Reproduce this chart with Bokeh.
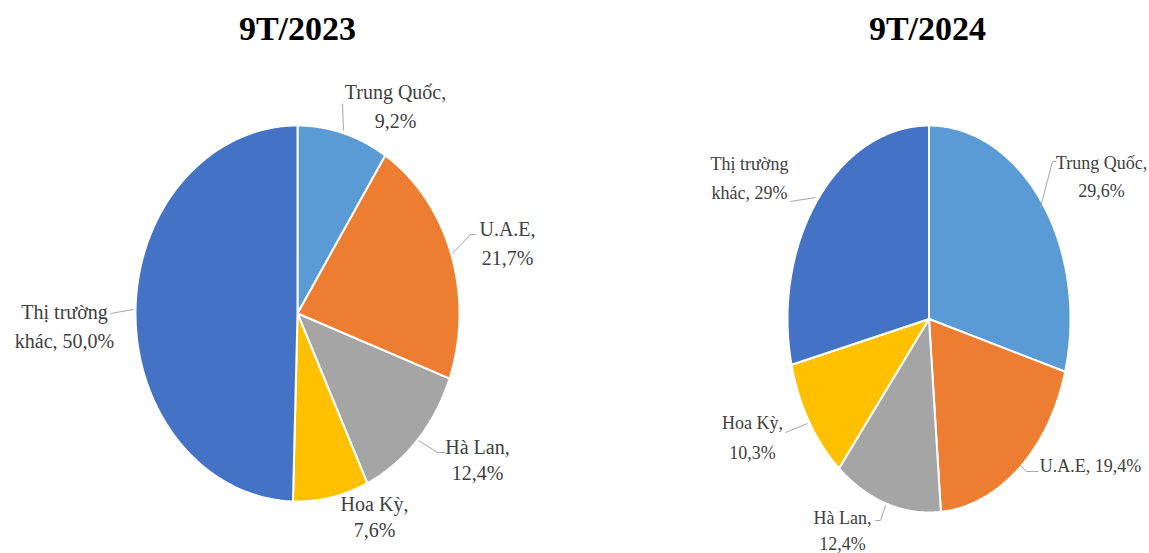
import numpy as np
from bokeh.plotting import figure
from bokeh.models import Range1d, ColumnDataSource
from bokeh.embed import file_html
from bokeh.resources import INLINE
from bokeh.core.properties import value

# ---------------- data ----------------
titles = ["9T/2023", "9T/2024"]
markets = ["Trung Quốc", "U.A.E", "Hà Lan", "Hoa Kỳ", "Thị trường khác"]
shares_2023 = [9.2, 21.7, 12.4, 7.6, 50.0]
shares_2024 = [29.6, 19.4, 12.4, 10.3, 29.0]
share_text_2023 = ["9,2%", "21,7%", "12,4%", "7,6%", "50,0%"]
share_text_2024 = ["29,6%", "19,4%", "12,4%", "10,3%", "29%"]
colors = ["#5B9BD5", "#ED7D31", "#A5A5A5", "#FFC000", "#4472C4"]

# ---------------- layout (pixel space, y downwards) ----------------
W, H = 1149, 553
FONT = "Liberation Serif"
LABEL_COLOR = "#404040"
LEADER_COLOR = "#A6A6A6"

pies = [
    dict(cx=297, cy=313, rx=162, ry=188, title_x=297, font="20px",
         # label layout per slice: (x, y line1, y line2 or None, split mode)
         labels=[(395, 91, 120, "comma"), (507, 228, 257, "comma"),
                 (477, 446, 472, "comma"), (374, 503, 529, "comma"),
                 (64, 311, 340, "name")],
         leaders=[[(342, 103), (343, 130)],
                  [(475, 234), (470, 234), (452, 253)],
                  [(445, 452), (437, 452), (418, 440)],
                  None,
                  [(110, 313), (133, 309)]]),
    dict(cx=928.5, cy=318.5, rx=141.5, ry=193.5, title_x=927, font="18px",
         labels=[(1101, 162, 190, "comma"), (1090, 465, None, "none"),
                 (842, 517, 543, "comma"), (752, 422, 452, "comma"),
                 (749, 163, 192, "name")],
         leaders=[[(1056, 161), (1052, 161), (1040, 207)],
                  [(1038, 471), (1026, 471), (1020, 465)],
                  [(875, 520), (880, 520), (885, 505)],
                  [(785, 432), (807, 423)],
                  [(790, 201), (815, 197)]]),
]

p = figure(width=W, height=H, x_range=Range1d(0, W), y_range=Range1d(H, 0),
           output_backend="svg", toolbar_location=None, min_border=0,
           background_fill_color="white", border_fill_color="white")
p.outline_line_color = None
p.axis.visible = False
p.grid.visible = False

for pie, shares, stexts, title in zip(pies, [shares_2023, shares_2024],
                                      [share_text_2023, share_text_2024], titles):
    vals = np.array(shares, dtype=float)
    cum = np.concatenate([[0.0], np.cumsum(vals)]) / vals.sum()
    xs, ys = [], []
    for a0, a1 in zip(cum[:-1], cum[1:]):
        th = np.linspace(2 * np.pi * a0, 2 * np.pi * a1, 200)
        px = pie["cx"] + pie["rx"] * np.sin(th)
        py = pie["cy"] - pie["ry"] * np.cos(th)
        xs.append([pie["cx"]] + list(px))
        ys.append([pie["cy"]] + list(py))
    src = ColumnDataSource(dict(xs=xs, ys=ys, color=colors, market=markets))
    p.patches("xs", "ys", source=src, fill_color="color",
              line_color="white", line_width=2)

    # title
    p.text(x=[pie["title_x"]], y=[28], text=[title], text_font=value(FONT),
           text_font_size="34px", text_font_style="bold", text_color="black",
           text_align="center", text_baseline="middle")

    # labels
    tx, ty, tt = [], [], []
    for name, stext, (lx, y1, y2, mode) in zip(markets, stexts, pie["labels"]):
        if mode == "comma":
            lines = [f"{name},", stext]
        elif mode == "name":
            first, last = name.rsplit(" ", 1)
            lines = [first, f"{last}, {stext}"]
        else:
            lines = [f"{name}, {stext}"]
        for ln, yy in zip(lines, [y1, y2]):
            tx.append(lx); ty.append(yy); tt.append(ln)
    p.text(x=tx, y=ty, text=tt, text_font=value(FONT),
           text_font_size=pie["font"], text_color=LABEL_COLOR,
           text_align="center", text_baseline="middle")

    # leader lines
    lx_, ly_ = [], []
    for ld in pie["leaders"]:
        if ld is None:
            continue
        lx_.append([pt[0] for pt in ld])
        ly_.append([pt[1] for pt in ld])
    p.multi_line(lx_, ly_, line_color=LEADER_COLOR, line_width=1)

open("out.html", "w").write(file_html(p, INLINE))
